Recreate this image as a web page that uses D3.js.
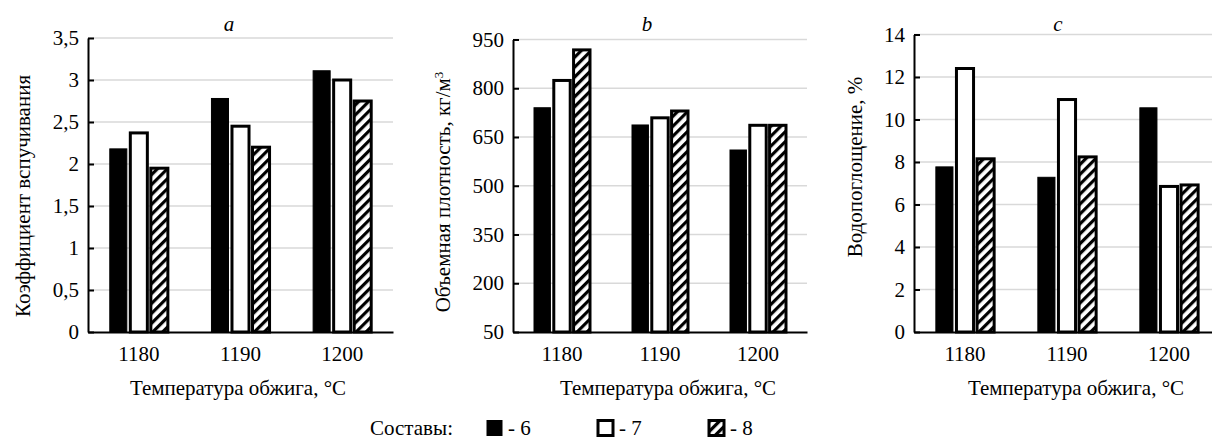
<!DOCTYPE html>
<html><head><meta charset="utf-8">
<script src="https://cdn.jsdelivr.net/npm/d3@7/dist/d3.min.js"></script>
<style>
body{margin:0;background:#fff;}
svg text{font-family:"Liberation Serif","Times New Roman","DejaVu Serif",serif !important;}
</style></head>
<body><svg id="c" width="1212" height="444"></svg>
<script>
const temps = ["1180", "1190", "1200"];
const series = ["6", "7", "8"];
// chart a: coefficient of expansion
const expand6 = [2.18, 2.78, 3.11];
const expand7 = [2.37, 2.45, 3.00];
const expand8 = [1.95, 2.20, 2.75];
const expandTicks = [0, 0.5, 1, 1.5, 2, 2.5, 3, 3.5];
// chart b: bulk density
const dens6 = [740, 687, 610];
const dens7 = [824, 709, 686];
const dens8 = [918, 730, 686];
const densTicks = [50, 200, 350, 500, 650, 800, 950];
// chart c: water absorption
const water6 = [7.77, 7.28, 10.55];
const water7 = [12.4, 10.94, 6.85];
const water8 = [8.15, 8.24, 6.92];
const waterTicks = [0, 2, 4, 6, 8, 10, 12, 14];

const FONT = '"Liberation Serif","Times New Roman",serif';
const svg = d3.select("#c");
const defs = svg.append("defs");
const pat = defs.append("pattern").attr("id","hatch").attr("patternUnits","userSpaceOnUse")
  .attr("width",7).attr("height",7).attr("patternTransform","rotate(45)");
pat.append("rect").attr("width",7).attr("height",7).attr("fill","#fff");
pat.append("rect").attr("x",0).attr("y",0).attr("width",3.2).attr("height",7).attr("fill","#000");

const fills = {"6":"#000","7":"#fff","8":"url(#hatch)"};
const fmt = v => String(v).replace(".", ",");

function chart(o){
  const g = svg.append("g").attr("font-family",FONT);
  const x0 = d3.scaleBand().domain(temps).range([o.x0, o.x1]).paddingInner(0.36).paddingOuter(0.18);
  const x1 = d3.scaleBand().domain(series).range([0, x0.bandwidth()]).padding(0.17);
  const y = d3.scaleLinear().domain(o.domain).range([332, o.yTop]);
  g.selectAll(".grid").data(o.ticks.slice(1)).join("line")
    .attr("x1",o.x0).attr("x2",o.x1).attr("y1",d=>y(d)).attr("y2",d=>y(d))
    .attr("stroke","#d9d9d9").attr("stroke-width",1.5);
  const ax = g.append("g").attr("transform",`translate(${o.x0},0)`)
    .call(d3.axisLeft(y).tickValues(o.ticks).tickFormat(fmt).tickSizeInner(-6).tickSizeOuter(0).tickPadding(9));
  ax.attr("font-family",FONT).attr("font-size",21);
  ax.select(".domain").attr("stroke","#000").attr("stroke-width",2);
  ax.selectAll(".tick line").attr("stroke","#000").attr("stroke-width",2);
  ax.selectAll("text").attr("fill","#000");
  const rows = temps.map((t,i)=>({t, vals: series.map((s,j)=>({s, v:o.data[j][i]}))}));
  const grp = g.selectAll(".grp").data(rows).join("g").attr("transform",d=>`translate(${x0(d.t)},0)`);
  grp.selectAll("rect").data(d=>d.vals).join("rect")
    .attr("x",d=>x1(d.s)).attr("width",x1.bandwidth())
    .attr("y",d=>y(d.v)).attr("height",d=>y(o.domain[0])-y(d.v))
    .attr("fill",d=>fills[d.s]).attr("stroke","#000")
    .attr("stroke-width",d=>d.s==="6"?1:3);
  const xa = g.append("g").attr("transform","translate(0,332)")
    .call(d3.axisBottom(x0).tickSize(0).tickPadding(14));
  xa.attr("font-family",FONT).attr("font-size",21);
  xa.select(".domain").attr("stroke","#000").attr("stroke-width",2);
  xa.selectAll("text").attr("fill","#000");
  g.append("text").attr("x",o.xtX).attr("y",395).attr("text-anchor","middle").attr("font-size",21).text("Температура обжига, °C");
  g.append("text").attr("transform",`translate(${o.ytX},${o.ytY}) rotate(-90)`).attr("dy","0.35em")
    .attr("text-anchor","middle").attr("font-size",21).html(o.ytitle);
  g.append("text").attr("x",o.tX).attr("y",31).attr("text-anchor","middle").attr("font-size",21)
    .attr("font-style","italic").text(o.letter);
}

chart({x0:88,x1:393,yTop:38,domain:[0,3.5],ticks:expandTicks,data:[expand6,expand7,expand8],
  xtX:238,ytX:23,ytY:196,ytitle:"Коэффициент вспучивания",tX:229,letter:"a"});
chart({x0:513,x1:807,yTop:39.5,domain:[50,950],ticks:densTicks,data:[dens6,dens7,dens8],
  xtX:668,ytX:443,ytY:192,ytitle:"Объемная плотность, кг/м<tspan dy='-7' font-size='13'>3</tspan>",tX:647,letter:"b"});
chart({x0:914,x1:1220,yTop:34.5,domain:[0,14],ticks:waterTicks,data:[water6,water7,water8],
  xtX:1076,ytX:855,ytY:167,ytitle:"Водопоглощение, %",tX:1058,letter:"c"});

const lg = svg.append("g").attr("font-size",21).attr("font-family",FONT);
const ly = 428;
lg.append("text").attr("x",370).attr("y",ly).attr("dy","0.35em").text("Составы:");
const legItems = [{s:"6",x:486},{s:"7",x:597},{s:"8",x:708}];
legItems.forEach(d=>{
  lg.append("rect").attr("x",d.x+1).attr("y",ly-7.5).attr("width",15).attr("height",15)
    .attr("fill",fills[d.s]).attr("stroke","#000").attr("stroke-width",d.s==="6"?1:3);
  lg.append("text").attr("x",d.x+22).attr("y",ly).attr("dy","0.35em").text("- "+d.s);
});
</script></body></html>
